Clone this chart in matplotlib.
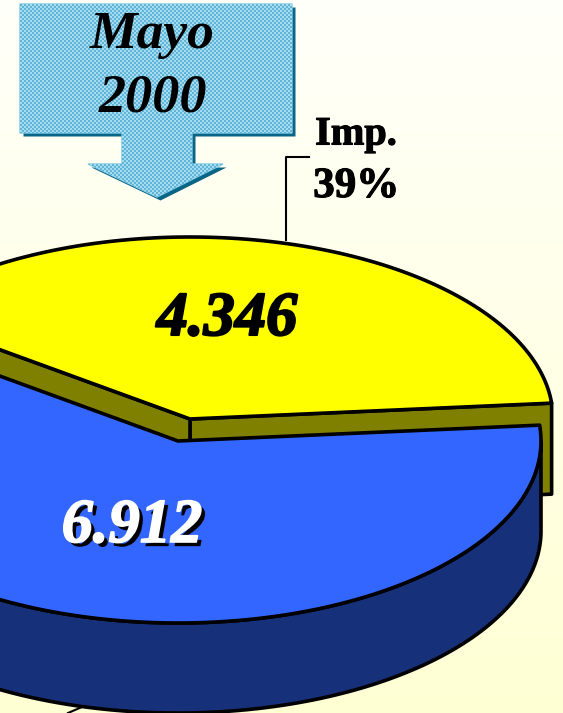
import numpy as np
import matplotlib
matplotlib.use("Agg")
import matplotlib.pyplot as plt
from matplotlib.patches import Polygon
import matplotlib.patheffects as pe

categories = ["Imp.", "Nac."]
values = [4346, 6912]
value_labels = ["4.346", "6.912"]
pct_label = "39%"
title_lines = ["Mayo", "2000"]

W, H = 563, 713
RX, RY = 363, 182
DEPTH = 90
START = 5  # degrees, where the yellow slice starts
YELLOW_C = (190, 419)
BLUE_C = (178, 441)

YELLOW = "#FFFF00"
OLIVE = "#808000"
BLUE = "#3366FF"
DARK_BLUE = "#16307A"
LW = 2.6

fig = plt.figure(figsize=(W / 100, H / 100), dpi=100)
ax = fig.add_axes([0, 0, 1, 1])
ax.set_xlim(0, W)
ax.set_ylim(H, 0)
ax.axis("off")

# background gets more yellow towards the bottom
top = np.array([255, 255, 250]) / 255
bottom = np.array([255, 255, 212]) / 255
t = np.linspace(0, 1, H)[:, None, None]
ax.imshow(top * (1 - t) + bottom * t, extent=[0, W, H, 0], aspect="auto", zorder=0)


def rim(center, a0, a1, dy=0):
    # points on the tilted circle between two angles
    a = np.radians(np.linspace(a0, a1, 200))
    return np.column_stack([center[0] + RX * np.cos(a), center[1] - RY * np.sin(a) + dy])


def add_poly(pts, color, z):
    ax.add_patch(Polygon(pts, closed=True, fc=color, ec="black", lw=LW, joinstyle="round", zorder=z))


sweep = 360 * values[0] / sum(values)
y_end = START + sweep
b_end = START + 360

# olive cut faces of the yellow slice
yc = np.array(YELLOW_C, dtype=float)
for ang in (START, y_end):
    edge = rim(YELLOW_C, ang, ang)[0]
    add_poly([yc, edge, edge + [0, DEPTH + 1], yc + [0, DEPTH + 1]], OLIVE, 2)

# yellow top
add_poly(np.vstack([yc, rim(YELLOW_C, START, y_end)]), YELLOW, 3)

# side of the blue slice, front part only
side_top = rim(BLUE_C, y_end, 360)
side_bot = rim(BLUE_C, 360, y_end, dy=DEPTH)
add_poly(np.vstack([side_top, side_bot]), DARK_BLUE, 4)

# blue top
bc = np.array(BLUE_C, dtype=float)
add_poly(np.vstack([bc, rim(BLUE_C, y_end, b_end)]), BLUE, 5)

# leader lines
ax.plot([286, 286, 309], [240, 157, 157], color="black", lw=1.5, zorder=2)
ax.plot([68, 82], [713, 707], color="black", lw=1.5, zorder=6)

# callout arrow, dithered fill clipped to the shape
arrow = np.array([[20, 4], [292, 4], [292, 133], [192, 133], [192, 164], [223, 164],
                  [157, 197], [88, 164], [122, 164], [122, 133], [20, 133]], dtype=float)
ax.add_patch(Polygon(arrow + [3.5, 3.5], closed=True, fc="#0B6587", ec="none", zorder=7))
outline = Polygon(arrow, closed=True, fc="#7CC6E2", ec="#7FC9E4", lw=1, zorder=8)
ax.add_patch(outline)
yy, xx = np.mgrid[0:210, 0:300]
dots = ((xx // 2 + yy // 2) % 2).astype(float)
pattern = ax.imshow(dots, cmap=matplotlib.colors.ListedColormap(["#5FB4D8", "#A6DCEF"]),
                    extent=[0, 300, 210, 0], aspect="auto", interpolation="nearest", zorder=8.5)
pattern.set_clip_path(outline)
ax.set_xlim(0, W)
ax.set_ylim(H, 0)

serif = ["Liberation Serif", "DejaVu Serif"]
ax.text(152, 35, title_lines[0], family=serif, style="italic", weight="bold", fontsize=38.5,
        ha="center", va="center", zorder=9)
ax.text(153, 98, title_lines[1], family=serif, style="italic", weight="bold", fontsize=39,
        ha="center", va="center", zorder=9)

thick = [pe.withStroke(linewidth=0.8, foreground="black")]
ax.text(356, 135, categories[0], family=serif, weight="bold", fontsize=29, ha="center", va="center",
        zorder=9, path_effects=thick)
ax.text(356, 187, pct_label, family=serif, weight="bold", fontsize=31, ha="center", va="center",
        zorder=9, path_effects=thick)

# slice values
ax.text(227, 320, value_labels[0], family=serif, style="italic", weight="bold", fontsize=45,
        ha="center", va="center", color="black", zorder=9,
        path_effects=[pe.withStroke(linewidth=1.5, foreground="black")])
ax.text(132, 527, value_labels[1], family=serif, style="italic", weight="bold", fontsize=45,
        ha="center", va="center", color="white", zorder=9,
        path_effects=[pe.withSimplePatchShadow(offset=(3, -3), shadow_rgbFace="black", alpha=1),
                      pe.withStroke(linewidth=1.2, foreground="white")])

fig.savefig("out.png", dpi=100)
